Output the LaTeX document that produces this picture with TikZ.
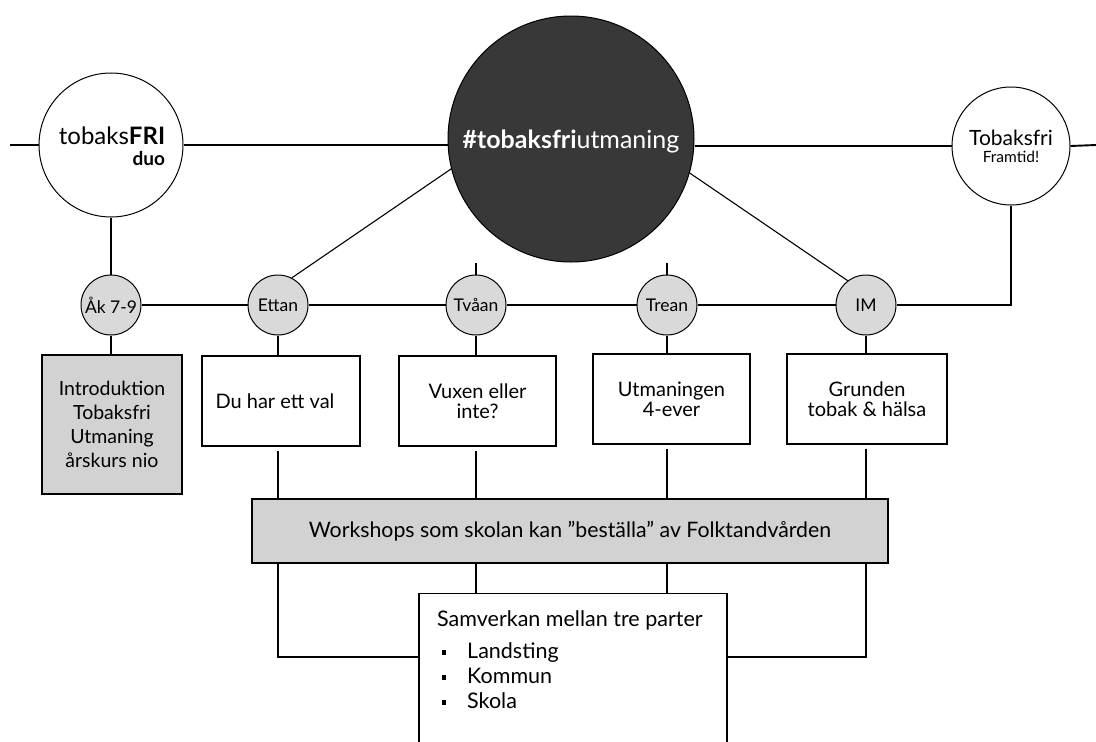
\documentclass[tikz,border=0pt]{standalone}
\usepackage{fontspec}
\setmainfont{Lato}
\definecolor{lightdot}{HTML}{D9D9D9}
\definecolor{boxgray}{HTML}{D2D2D2}
\definecolor{darkc}{HTML}{383838}
\newcommand{\sqbul}{\rule[3pt]{4pt}{5pt}}
\begin{document}
\begin{tikzpicture}[x=1pt,y=-1pt,
  conn/.style={draw=black, line width=1.1pt},
  topconn/.style={draw=black, line width=1.9pt},
  bigcirc/.style={circle, draw=black, line width=1pt, inner sep=0pt},
  smallcirc/.style={circle, draw=black, line width=1pt, fill=lightdot, minimum size=60pt, inner sep=0pt, font=\fontsize{17.5}{17.5}\selectfont},
  wbox/.style={rectangle, draw=black, line width=1.3pt, fill=white, minimum width=158pt, minimum height=90pt, inner sep=2pt, align=center, font=\fontsize{20}{20}\selectfont},
  gbox/.style={rectangle, draw=black, line width=1.3pt, fill=boxgray, inner sep=2pt, align=center}
]
\useasboundingbox (0,0) rectangle (1096,742);
\clip (0,0) rectangle (1096,742);
\fill[white] (0,0) rectangle (1096,742);

% big top circles
\node[bigcirc, minimum size=144pt] (L) at (111,145) {};
\node[align=right, font=\fontsize{24}{21}\selectfont] (Ltxt) at (112,146) {tobaks\textbf{FRI}\\{\bfseries\fontsize{19}{21}\selectfont duo}};
\node[bigcirc, minimum size=246pt, fill=darkc] (B) at (571,139) {};
\node[text=white, font=\fontsize{25}{25}\selectfont] (Btxt) at (571,141) {\textbf{\#tobaksfri}utmaning};
\node[bigcirc, minimum size=118pt] (R) at (1011,146) {};
\node[align=center, font=\fontsize{21}{17}\selectfont] (Rtxt) at (1011,146) {Tobaksfri\\{\fontsize{15.5}{17}\selectfont Framtid!}};

\coordinate (lend) at (10,145);
\coordinate (rend) at (1096,145);

% top line
\draw[topconn] (lend) -- (L.west);
\draw[topconn] (L.east) -- (L.east -| B.west);
\draw[topconn] (B.east |- R.west) -- (R.west);
\draw[topconn] (R.east) -- (rend);

% small circles
\node[smallcirc] (A) at (111,305) {Åk 7-9};
\node[smallcirc] (E) at (278,305) {Ettan};
\node[smallcirc] (T) at (476,305) {Tvåan};
\node[smallcirc] (Tr) at (667,305) {Trean};
\node[smallcirc] (IM) at (866,305) {IM};

% boxes
\node[gbox, minimum width=140pt, minimum height=139pt, font=\fontsize{19.5}{24}\selectfont] (intro) at (112,424.5) {Introduktion\\Tobaksfri\\Utmaning\\årskurs nio};
\node[wbox] (eb) at (281,401) {\hspace*{-12pt}Du har ett val};
\node[wbox, minimum width=157pt] (tb) at (477.5,401) {Vuxen eller\\inte?};
\node[wbox, minimum width=157pt] (trb) at (671.5,399) {Utmaningen\\4-ever};
\node[wbox, minimum width=160pt] (imb) at (867,399) {Grunden\\tobak \& hälsa};
\node[gbox, minimum width=636pt, minimum height=64pt, font=\fontsize{21.3}{21.3}\selectfont] (ws) at (570,531) {Workshops som skolan kan ”beställa” av Folktandvården};
\node[rectangle, draw=black, line width=1.3pt, fill=white, minimum width=308pt, minimum height=220pt, anchor=north] (bb) at (573,593) {};
\node[anchor=north west, align=left, inner sep=0pt, font=\fontsize{21.5}{25}\selectfont] (bbt) at (437,610) {Samverkan mellan tre parter\\[7pt]\hspace*{5pt}\sqbul\hspace{21pt}Landsting\\\hspace*{5pt}\sqbul\hspace{21pt}Kommun\\\hspace*{5pt}\sqbul\hspace{21pt}Skola};

% connectors on the top level
\draw[conn] (L.south) -- (A.north);
\draw[conn] (R.south) -- (R.south |- IM.east) -- (IM.east);
\draw[conn] (B.194) -- (E.63);
\draw[conn] (B.-16) -- (IM.127);
\draw[conn] (B.south -| T.north) -- (T.north);
\draw[conn] (B.south -| Tr.north) -- (Tr.north);

% middle row
\draw[conn] (A.east) -- (E.west);
\draw[conn] (E.east) -- (T.west);
\draw[conn] (T.east) -- (Tr.west);
\draw[conn] (Tr.east) -- (IM.west);

% circles to boxes
\draw[conn] (A.south) -- (A.south |- intro.north);
\draw[conn] (E.south) -- (E.south |- eb.north);
\draw[conn] (T.south) -- (T.south |- tb.north);
\draw[conn] (Tr.south) -- (Tr.south |- trb.north);
\draw[conn] (IM.south) -- (IM.south |- imb.north);

% boxes to workshop
\draw[conn, shorten <=4pt] (E.south |- eb.south) -- (E.south |- ws.north);
\draw[conn, shorten <=4pt] (T.south |- tb.south) -- (T.south |- ws.north);
\draw[conn, shorten <=4pt] (Tr.south |- trb.south) -- (Tr.south |- ws.north);
\draw[conn, shorten <=4pt] (IM.south |- imb.south) -- (IM.south |- ws.north);

% workshop to bottom box
\coordinate (hl) at (0,657);
\draw[conn] (E.south |- ws.south) -- (E.south |- hl) -- (bb.west |- hl);
\draw[conn] (IM.south |- ws.south) -- (IM.south |- hl) -- (bb.east |- hl);
\draw[conn] (T.south |- ws.south) -- (T.south |- bb.north);
\draw[conn] (Tr.south |- ws.south) -- (Tr.south |- bb.north);
\end{tikzpicture}
\end{document}
